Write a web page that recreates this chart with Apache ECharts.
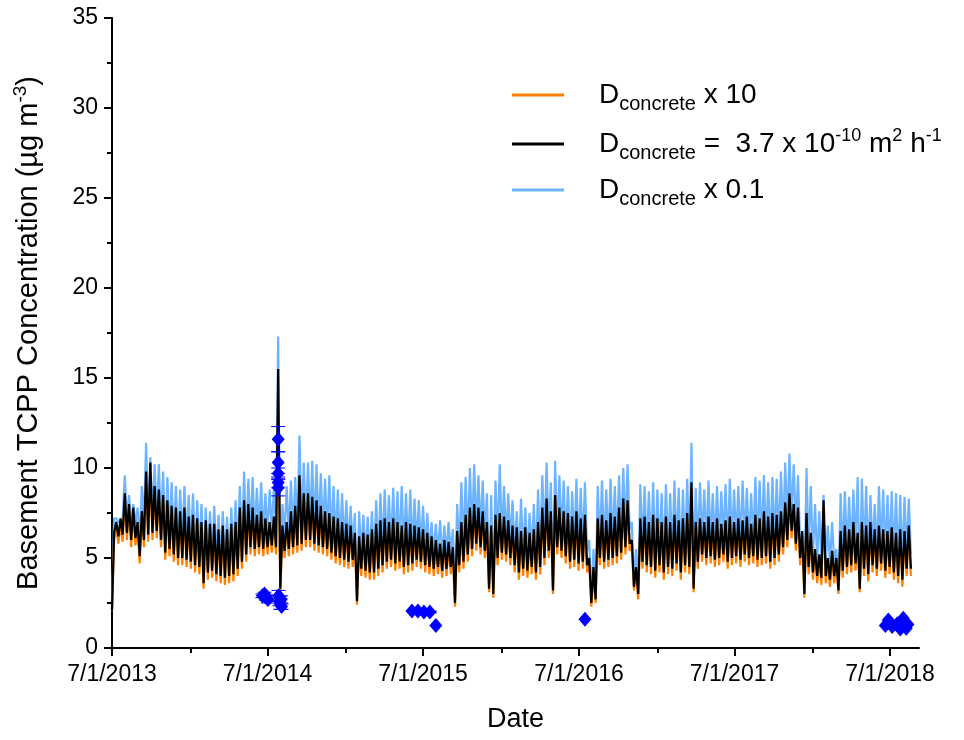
<!DOCTYPE html>
<html>
<head>
<meta charset="utf-8">
<script src="https://cdn.jsdelivr.net/npm/echarts@6/dist/echarts.min.js"></script>
<style>
  html, body { margin: 0; padding: 0; background: #fff; }
  #chart { width: 964px; height: 740px; }
</style>
</head>
<body>
<div id="chart"></div>
<script>
// samples every 5 days from 7/1/2013 as (peak, trough) pairs
const STEP_DAYS = 5;

const blackVals = [
  2.1,6.4, 7.0,6.2, 7.2,6.3, 8.6,6.4, 8.0,6.0, 7.8,6.1, 7.0,5.1, 7.6,6.0, 9.8,6.3, 10.3,6.4,
  9.0,6.5, 8.8,6.0, 8.5,5.3, 8.2,5.5, 7.9,5.2, 7.8,5.0, 7.6,5.0, 7.8,4.9, 7.3,4.8, 7.4,4.6,
  7.2,4.5, 7.0,3.6, 7.1,4.2, 6.9,4.3, 6.9,4.1, 6.6,4.0, 6.8,3.9, 6.6,4.0, 6.9,4.1, 7.0,4.4,
  7.8,4.8, 8.2,5.2, 8.0,5.6, 7.8,5.5, 7.4,5.6, 7.6,5.5, 7.2,5.6, 7.0,5.7, 7.3,5.6, 15.5,3.3,
  6.8,5.4, 7.0,5.5, 7.6,5.6, 7.9,5.7, 9.6,5.8, 8.6,6.0, 8.6,6.0, 8.4,5.8, 8.2,5.7, 7.9,5.6,
  7.6,5.5, 7.5,5.3, 7.3,5.1, 7.2,5.0, 7.0,4.9, 6.9,4.8, 6.8,4.9, 6.4,2.6, 6.2,4.4, 6.4,4.3,
  6.3,4.2, 6.6,4.2, 6.9,4.4, 7.1,4.6, 7.2,4.8, 7.0,4.9, 7.2,4.7, 7.0,4.8, 6.8,4.5, 7.0,4.6,
  6.9,4.7, 6.8,4.9, 6.7,4.8, 6.6,4.6, 6.4,4.5, 6.2,4.4, 6.0,4.5, 5.8,4.3, 6.0,4.4, 5.9,4.5,
  5.6,2.5, 6.5,4.6, 7.0,4.8, 7.4,5.2, 7.8,5.5, 8.0,5.8, 7.8,5.6, 7.6,5.4, 7.0,3.3, 6.8,3.0,
  7.4,5.0, 7.5,5.3, 7.3,5.2, 7.1,5.0, 6.8,4.6, 6.7,4.2, 6.5,4.4, 6.7,4.3, 6.4,4.5, 6.6,4.2,
  7.0,4.5, 7.8,5.0, 8.3,5.4, 7.6,3.2, 8.5,5.6, 7.8,5.4, 7.6,5.1, 7.5,4.8, 7.3,4.9, 7.6,4.7,
  7.2,4.8, 7.4,4.6, 5.0,2.5, 4.5,2.7, 7.2,5.0, 7.4,4.8, 7.1,4.9, 7.5,5.0, 7.3,5.1, 7.8,5.3,
  8.3,5.6, 8.2,5.8, 6.0,3.4, 4.5,3.0, 7.2,4.8, 7.3,4.6, 7.0,4.5, 7.4,4.3, 7.2,4.6, 7.0,4.2,
  7.3,4.5, 7.0,4.4, 7.4,4.7, 7.1,4.2, 7.2,4.6, 7.5,4.5, 9.2,3.3, 7.0,4.8, 7.2,5.2, 7.0,5.0,
  7.3,5.1, 7.0,4.9, 7.2,5.0, 6.9,5.2, 7.1,4.8, 7.3,5.0, 7.0,5.1, 7.2,4.9, 7.1,5.2, 7.3,5.0,
  6.9,5.1, 7.4,4.9, 7.2,5.0, 7.6,5.1, 7.3,4.8, 7.5,5.0, 7.4,5.2, 7.6,5.6, 8.1,6.0, 8.6,6.5,
  8.0,5.8, 7.8,5.0, 6.5,3.0, 7.5,4.5, 6.4,4.2, 5.5,4.0, 5.2,3.9, 8.2,4.0, 5.0,3.8, 5.4,4.0,
  5.0,3.2, 6.5,4.3, 6.8,4.5, 6.6,4.6, 7.0,4.7, 6.4,3.3, 7.0,4.4, 6.8,4.1, 7.0,4.6, 6.6,4.4,
  6.8,4.7, 6.6,4.3, 6.5,4.5, 6.7,4.2, 6.4,4.0, 6.6,3.8, 6.5,4.4, 6.8,4.4
];

const orangeVals = [
  2.1,6.0, 6.7,5.8, 6.9,5.9, 8.2,6.0, 7.7,5.6, 7.5,5.7, 6.7,4.7, 7.3,5.6, 9.3,5.9, 9.8,6.0,
  8.7,6.1, 8.5,5.6, 8.2,4.9, 7.9,5.1, 7.6,4.8, 7.5,4.6, 7.3,4.6, 7.5,4.5, 7.0,4.4, 7.1,4.2,
  6.9,4.1, 6.7,3.3, 6.8,3.8, 6.6,3.9, 6.6,3.7, 6.3,3.6, 6.5,3.5, 6.3,3.6, 6.6,3.7, 6.7,4.0,
  7.5,4.4, 7.9,4.8, 7.7,5.2, 7.5,5.1, 7.1,5.2, 7.3,5.1, 6.9,5.2, 6.7,5.3, 7.0,5.2, 13.0,3.1,
  6.5,5.0, 6.7,5.1, 7.3,5.2, 7.6,5.3, 9.2,5.4, 8.3,5.6, 8.3,5.6, 8.1,5.4, 7.9,5.3, 7.6,5.2,
  7.3,5.1, 7.2,4.9, 7.0,4.7, 6.9,4.6, 6.7,4.5, 6.6,4.4, 6.5,4.5, 6.1,2.4, 5.9,4.0, 6.1,3.9,
  6.0,3.8, 6.3,3.8, 6.6,4.0, 6.8,4.2, 6.9,4.4, 6.7,4.5, 6.9,4.3, 6.7,4.4, 6.5,4.1, 6.7,4.2,
  6.6,4.3, 6.5,4.5, 6.4,4.4, 6.3,4.2, 6.1,4.1, 5.9,4.0, 5.7,4.1, 5.5,3.9, 5.7,4.0, 5.6,4.1,
  5.3,2.3, 6.2,4.2, 6.7,4.4, 7.1,4.8, 7.5,5.1, 7.7,5.4, 7.5,5.2, 7.3,5.0, 6.7,3.1, 6.5,2.8,
  7.1,4.6, 7.2,4.9, 7.0,4.8, 6.8,4.6, 6.5,4.2, 6.4,3.8, 6.2,4.0, 6.4,3.9, 6.1,4.1, 6.3,3.8,
  6.7,4.1, 7.5,4.6, 8.0,5.0, 7.3,3.0, 8.2,5.2, 7.5,5.0, 7.3,4.7, 7.2,4.4, 7.0,4.5, 7.3,4.3,
  6.9,4.4, 7.1,4.2, 4.7,2.3, 4.2,2.5, 6.9,4.6, 7.1,4.4, 6.8,4.5, 7.2,4.6, 7.0,4.7, 7.5,4.9,
  8.0,5.2, 7.9,5.4, 5.7,3.2, 4.2,2.7, 6.9,4.4, 7.0,4.2, 6.7,4.1, 7.1,3.9, 6.9,4.2, 6.7,3.8,
  7.0,4.1, 6.7,4.0, 7.1,4.3, 6.8,3.8, 6.9,4.2, 7.2,4.1, 8.9,3.1, 6.7,4.4, 6.9,4.8, 6.7,4.6,
  7.0,4.7, 6.7,4.5, 6.9,4.6, 6.6,4.8, 6.8,4.4, 7.0,4.6, 6.7,4.7, 6.9,4.5, 6.8,4.8, 7.0,4.6,
  6.6,4.7, 7.1,4.5, 6.9,4.6, 7.3,4.7, 7.0,4.4, 7.2,4.6, 7.1,4.8, 7.3,5.2, 7.8,5.6, 8.3,6.1,
  7.7,5.4, 7.5,4.6, 6.2,2.8, 7.2,4.1, 6.1,3.8, 5.2,3.6, 4.9,3.5, 7.9,3.6, 4.7,3.4, 5.1,3.6,
  4.7,3.0, 6.2,3.9, 6.5,4.1, 6.3,4.2, 6.7,4.3, 6.1,3.1, 6.7,4.0, 6.5,3.7, 6.7,4.2, 6.3,4.0,
  6.5,4.3, 6.3,3.9, 6.2,4.1, 6.4,3.8, 6.1,3.6, 6.3,3.4, 6.2,4.0, 6.5,4.0
];

const blueVals = [
  2.1,7.2, 7.2,7.0, 7.0,7.1, 9.6,7.2, 8.5,6.8, 8.0,6.9, 7.8,5.9, 9.0,6.8, 11.4,7.1, 10.6,7.2,
  10.2,7.3, 10.2,6.8, 9.8,6.1, 9.5,6.3, 9.2,6.0, 9.0,5.8, 8.8,5.8, 9.0,5.7, 8.5,5.6, 8.6,5.4,
  8.2,5.3, 8.0,4.4, 7.8,5.0, 7.6,5.1, 7.9,4.9, 7.4,4.8, 7.6,4.7, 7.3,4.8, 7.8,4.9, 8.2,5.2,
  9.0,5.6, 9.8,6.0, 9.4,6.4, 9.5,6.3, 8.9,6.4, 9.2,6.3, 8.6,6.4, 8.8,6.5, 9.0,6.4, 17.3,3.5,
  8.0,6.2, 9.0,6.3, 9.3,6.4, 9.5,6.5, 11.8,6.6, 10.3,6.8, 10.3,6.8, 10.4,6.6, 10.2,6.5, 9.7,6.4,
  9.4,6.3, 9.6,6.1, 9.0,5.9, 8.8,5.8, 8.6,5.7, 8.2,5.6, 7.9,5.7, 7.5,2.8, 7.6,5.2, 7.4,5.1,
  7.3,5.0, 7.6,5.0, 8.2,5.2, 8.6,5.4, 8.8,5.6, 8.5,5.7, 8.9,5.5, 8.7,5.6, 9.0,5.3, 8.6,5.4,
  8.8,5.5, 8.3,5.7, 8.2,5.6, 7.9,5.4, 7.5,5.3, 7.0,5.2, 6.9,5.3, 7.1,5.1, 6.8,5.2, 7.0,5.3,
  6.6,2.7, 8.0,5.4, 9.2,5.6, 9.5,6.0, 10.0,6.3, 10.2,6.6, 9.6,6.4, 9.3,6.2, 8.6,3.5, 8.5,3.2,
  9.3,5.8, 10.2,6.1, 9.0,6.0, 8.6,5.8, 8.2,5.4, 7.6,5.0, 8.3,5.2, 7.8,5.1, 7.5,5.3, 8.0,5.0,
  8.8,5.3, 9.6,5.8, 10.3,6.2, 9.2,3.4, 10.4,6.4, 9.6,6.2, 9.3,5.9, 9.0,5.6, 8.7,5.7, 9.4,5.5,
  8.9,5.6, 9.2,5.4, 6.0,2.7, 5.5,2.9, 9.0,5.8, 9.3,5.6, 8.8,5.7, 9.4,5.8, 9.0,5.9, 9.6,6.1,
  10.0,6.4, 10.2,6.6, 7.0,3.6, 5.5,3.2, 9.1,5.6, 9.0,5.4, 8.7,5.3, 9.2,5.1, 8.8,5.4, 8.6,5.0,
  9.1,5.3, 8.6,5.2, 9.3,5.5, 8.9,5.0, 8.8,5.4, 9.4,5.3, 11.4,3.5, 8.9,5.6, 9.2,6.0, 8.8,5.8,
  9.3,5.9, 8.6,5.7, 9.0,5.8, 8.7,6.0, 9.1,5.6, 9.4,5.8, 8.8,5.9, 9.0,5.7, 9.3,6.0, 8.9,5.8,
  8.6,5.9, 9.5,5.7, 9.3,5.8, 9.6,5.9, 9.2,5.6, 9.5,5.8, 9.4,6.0, 9.8,6.4, 10.3,6.8, 10.8,7.3,
  10.2,6.6, 9.6,5.8, 6.0,3.2, 10.0,5.3, 9.0,5.0, 8.0,4.8, 7.6,4.7, 8.5,4.8, 6.8,4.6, 7.0,4.8,
  5.5,3.4, 8.6,5.1, 8.7,5.3, 8.4,5.4, 8.8,5.5, 9.5,3.5, 9.4,5.2, 9.0,4.9, 8.5,5.4, 8.0,5.2,
  9.0,5.5, 8.8,5.1, 8.5,5.3, 8.7,5.0, 8.6,4.8, 8.5,4.6, 8.4,5.2, 8.3,5.2
];

// measured samples (days since 7/1/2013), value and +/- error
const measDays = [353, 358, 362, 366, 390, 390, 390, 390, 390, 391, 393, 395, 397, 398,
                  704, 718, 732, 746, 760, 1110, 1815, 1822, 1831, 1843, 1850, 1857, 1864, 1868];
const measVals = [2.9, 3.0, 2.8, 2.7, 11.6, 10.3, 9.7, 9.2, 8.9, 2.9, 2.6, 2.45, 2.7, 2.3,
                  2.05, 2.05, 2.0, 2.0, 1.25, 1.6, 1.25, 1.55, 1.2, 1.35, 1.05, 1.65, 1.1, 1.3];
const measErr = [0.1, 0.1, 0.15, 0.2, 0.7, 0.6, 0.3, 0.3, 0.45, 0.3, 0.25, 0.3, 0.2, 0.15,
                 0, 0.1, 0.1, 0.05, 0, 0, 0, 0, 0, 0, 0, 0, 0, 0];

// x ticks: 7/1 of each year (major, labelled) and 1/1 (minor), as days since 7/1/2013
const majorDays = [0, 365, 730, 1096, 1461, 1826];
const minorDays = [184, 549, 914, 1280, 1645];
const yTicks = [0, 5, 10, 15, 20, 25, 30, 35];

const legendText = {
  x10: '{d|D}{s|concrete}{t| x 10}',
  base: '{d|D}{s|concrete}{t| =  3.7 x 10}{p|-10}{t| m}{p|2}{t| h}{p|-1}',
  x01: '{d|D}{s|concrete}{t| x 0.1}'
};

const FONT = 'Liberation Sans, Arial, sans-serif';
const T0 = Date.UTC(2013, 6, 1);

function dayLabel(v) {
  const d = new Date(T0 + Math.round(v) * 86400000);
  return (d.getUTCMonth() + 1) + '/' + d.getUTCDate() + '/' + d.getUTCFullYear();
}

const toPts = vals => vals.map((v, i) => [i * STEP_DAYS, v]);

const errData = measDays.map((d, i) => [d, measVals[i], measVals[i] - measErr[i], measVals[i] + measErr[i]])
  .filter(p => p[3] > p[2]);

const chart = echarts.init(document.getElementById('chart'));

const lineCommon = {
  type: 'line',
  showSymbol: false,
  symbol: 'none',
  sampling: null,
  silent: true,
  animation: false
};

chart.setOption({
  animation: false,
  backgroundColor: '#fff',
  grid: { left: 112, top: 18, width: 807, height: 630, containLabel: false },
  legend: {
    orient: 'vertical',
    left: 507,
    top: 76,
    itemWidth: 52,
    itemHeight: 3,
    itemGap: 13,
    icon: 'rect',
    data: ['x10', 'base', 'x01'],
    formatter: name => legendText[name],
    textStyle: {
      fontFamily: FONT,
      color: '#000',
      rich: {
        d: { fontSize: 28, fontFamily: FONT, color: '#000', padding: [0, 0, 0, 30] },
        s: { fontSize: 20, fontFamily: FONT, color: '#000', padding: [18, 0, 0, 0] },
        t: { fontSize: 28, fontFamily: FONT, color: '#000' },
        p: { fontSize: 18, fontFamily: FONT, color: '#000', padding: [0, 0, 16, 0] }
      }
    }
  },
  xAxis: [{
    type: 'value',
    min: 0,
    max: 1894,
    name: 'Date',
    nameLocation: 'middle',
    nameGap: 58,
    nameTextStyle: { fontFamily: FONT, fontSize: 27, color: '#000' },
    axisLine: { show: true, onZero: false, lineStyle: { color: '#000', width: 2 } },
    axisTick: { show: true, inside: false, length: 8, customValues: majorDays, lineStyle: { color: '#000', width: 2 } },
    axisLabel: { customValues: majorDays, formatter: dayLabel, fontFamily: FONT, fontSize: 23, color: '#000', margin: 15 },
    splitLine: { show: false }
  }, {
    // carries only the 1/1 minor ticks, moved down onto the bottom edge
    type: 'value',
    position: 'top',
    offset: -630,
    min: 0,
    max: 1894,
    axisLine: { show: false },
    axisTick: { show: true, inside: true, length: 5, customValues: minorDays, lineStyle: { color: '#000', width: 2 } },
    axisLabel: { show: false },
    splitLine: { show: false }
  }],
  yAxis: {
    type: 'value',
    min: 0,
    max: 35,
    interval: 5,
    name: '{a|Basement TCPP Concentration (µg m}{p|-3}{a|)}',
    nameLocation: 'middle',
    nameGap: 66,
    nameTextStyle: {
      fontFamily: FONT,
      color: '#000',
      rich: {
        a: { fontSize: 29, fontFamily: FONT, color: '#000' },
        p: { fontSize: 19, fontFamily: FONT, color: '#000', padding: [0, 0, 16, 0] }
      }
    },
    axisLine: { show: true, lineStyle: { color: '#000', width: 2 } },
    axisTick: { show: true, inside: false, length: 8, lineStyle: { color: '#000', width: 2 } },
    minorTick: { show: true, splitNumber: 2, length: 5, lineStyle: { color: '#000', width: 2 } },
    axisLabel: { fontFamily: FONT, fontSize: 23, color: '#000', margin: 14,
      customValues: yTicks },
    splitLine: { show: false },
    minorSplitLine: { show: false }
  },
  series: [
    Object.assign({}, lineCommon, {
      name: 'x01',
      data: toPts(blueVals),
      color: '#6cb4ff',
      lineStyle: { color: '#6cb4ff', width: 2.2 },
      z: 2
    }),
    Object.assign({}, lineCommon, {
      name: 'x10',
      data: toPts(orangeVals),
      color: '#ff8000',
      lineStyle: { color: '#ff8000', width: 2.2 },
      z: 3
    }),
    Object.assign({}, lineCommon, {
      name: 'base',
      data: toPts(blackVals),
      color: '#000000',
      lineStyle: { color: '#000000', width: 2.2 },
      z: 4
    }),
    {
      type: 'custom',
      name: 'err',
      data: errData,
      z: 5,
      silent: true,
      renderItem: function (params, api) {
        const x = api.value(0);
        const lo = api.coord([x, api.value(2)]);
        const hi = api.coord([x, api.value(3)]);
        const half = 7;
        const st = { stroke: '#0000ff', lineWidth: 1 };
        return {
          type: 'group',
          children: [
            { type: 'line', shape: { x1: lo[0], y1: lo[1], x2: hi[0], y2: hi[1] }, style: st },
            { type: 'line', shape: { x1: hi[0] - half, y1: hi[1], x2: hi[0] + half, y2: hi[1] }, style: st },
            { type: 'line', shape: { x1: lo[0] - half, y1: lo[1], x2: lo[0] + half, y2: lo[1] }, style: st }
          ]
        };
      }
    },
    {
      type: 'scatter',
      name: 'meas',
      data: measDays.map((d, i) => [d, measVals[i]]),
      symbol: 'diamond',
      symbolSize: [13, 15],
      itemStyle: { color: '#0000ff', opacity: 1 },
      z: 6,
      silent: true
    }
  ]
});
</script>
</body>
</html>
